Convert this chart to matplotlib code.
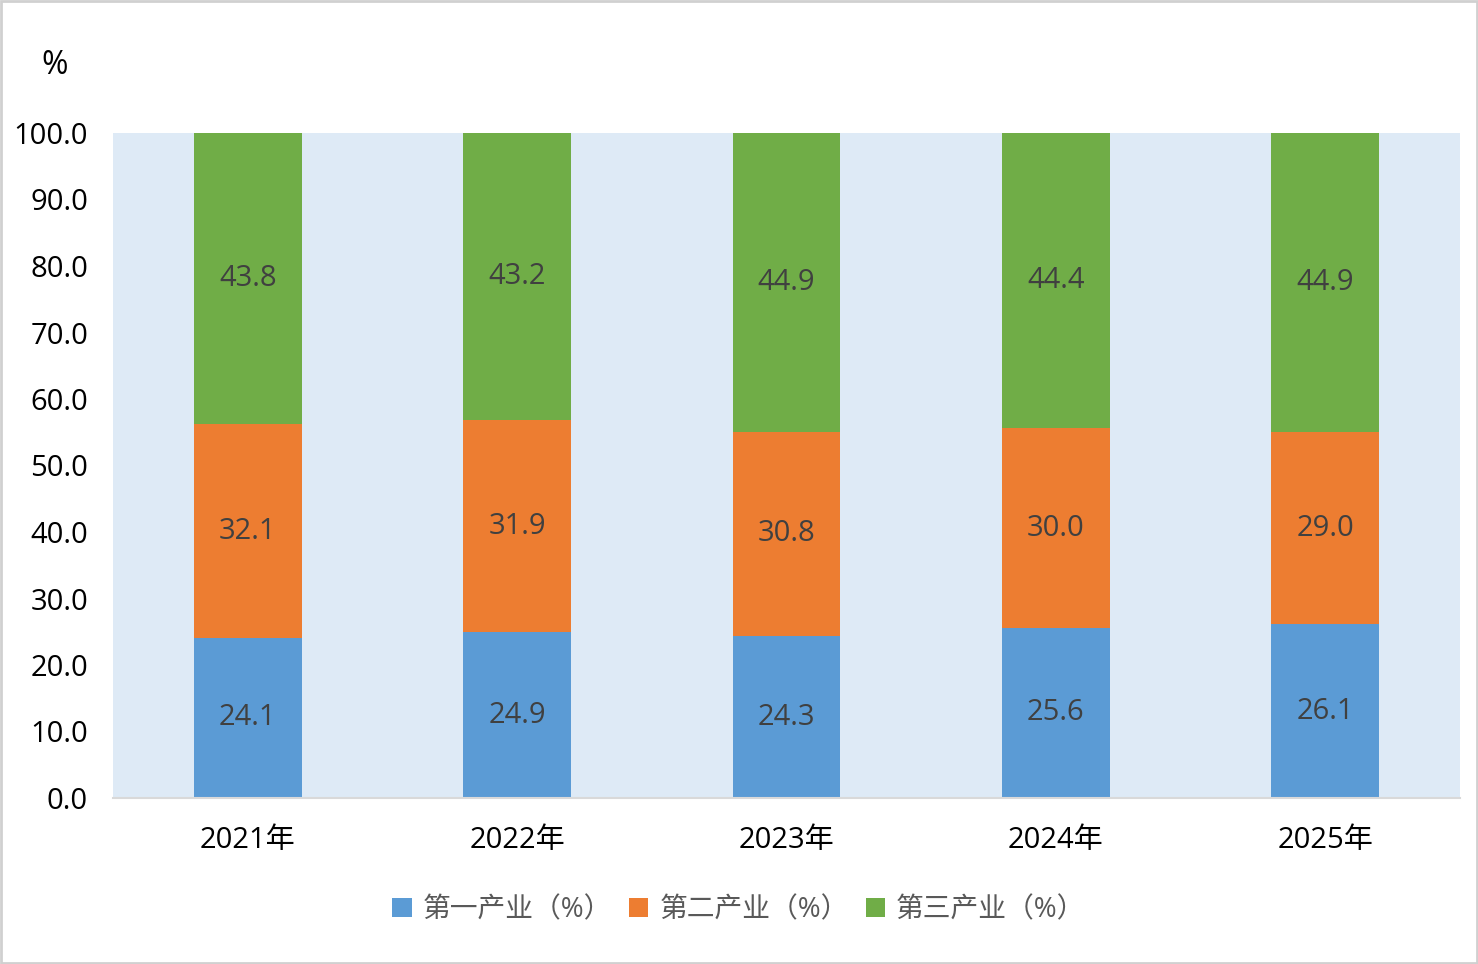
import numpy as np
import matplotlib.pyplot as plt

plt.rcParams['font.family'] = ['Open Sans', 'Noto Sans CJK SC', 'DejaVu Sans']

# Data
years = ['2021年', '2022年', '2023年', '2024年', '2025年']
primary = np.array([24.1, 24.9, 24.3, 25.6, 26.1])
secondary = np.array([32.1, 31.9, 30.8, 30.0, 29.0])
tertiary = np.array([43.8, 43.2, 44.9, 44.4, 44.9])
series_names = ['第一产业（%）', '第二产业（%）', '第三产业（%）']
colors = ['#5B9BD5', '#ED7D31', '#70AD47']

fig = plt.figure(figsize=(14.78, 9.64), dpi=100)
ax = fig.add_axes([113/1478, 1 - 798/964, (1460-113)/1478, (798-133)/964])
ax.set_facecolor('#DEEAF6')

x = np.arange(len(years))
w = 0.4
bottom = np.zeros(len(years))
for vals, c, name in zip([primary, secondary, tertiary], colors, series_names):
    ax.bar(x, vals, w, bottom=bottom, color=c, label=name)
    for xi, b, v in zip(x, bottom, vals):
        ax.text(xi, b + v / 2, f'{v:.1f}', ha='center', va='center', fontsize=21, color='#404040')
    bottom += vals

ax.set_xlim(-0.5, 4.5)
ax.set_ylim(0, 100)
ax.set_yticks(np.arange(0, 101, 10))
ax.set_yticklabels([f'{v:.1f}' for v in np.arange(0, 101, 10)], fontsize=21)
ax.set_xticks(x)
ax.set_xticklabels(years, fontsize=21)
ax.tick_params(axis='y', length=0, pad=18)
ax.tick_params(axis='x', length=0, pad=20)
for s in ['top', 'right', 'left']:
    ax.spines[s].set_visible(False)
ax.spines['bottom'].set_color('#D9D9D9')
ax.spines['bottom'].set_linewidth(1.5)

fig.text(55/1478, 1 - 65/964, '%', fontsize=23, ha='center', va='center')

fig.legend(loc='center', bbox_to_anchor=(0.5, 1 - 910/964), ncol=3, frameon=False,
           fontsize=20, handlelength=0.7, handleheight=0.7, handletextpad=0.4,
           columnspacing=0.6, labelcolor='#595959')

fig.add_artist(plt.Rectangle((0.001, 0.001), 0.998, 0.998, transform=fig.transFigure,
                             fill=False, edgecolor='#D0D0D0', linewidth=2))
fig.savefig('out.png')
